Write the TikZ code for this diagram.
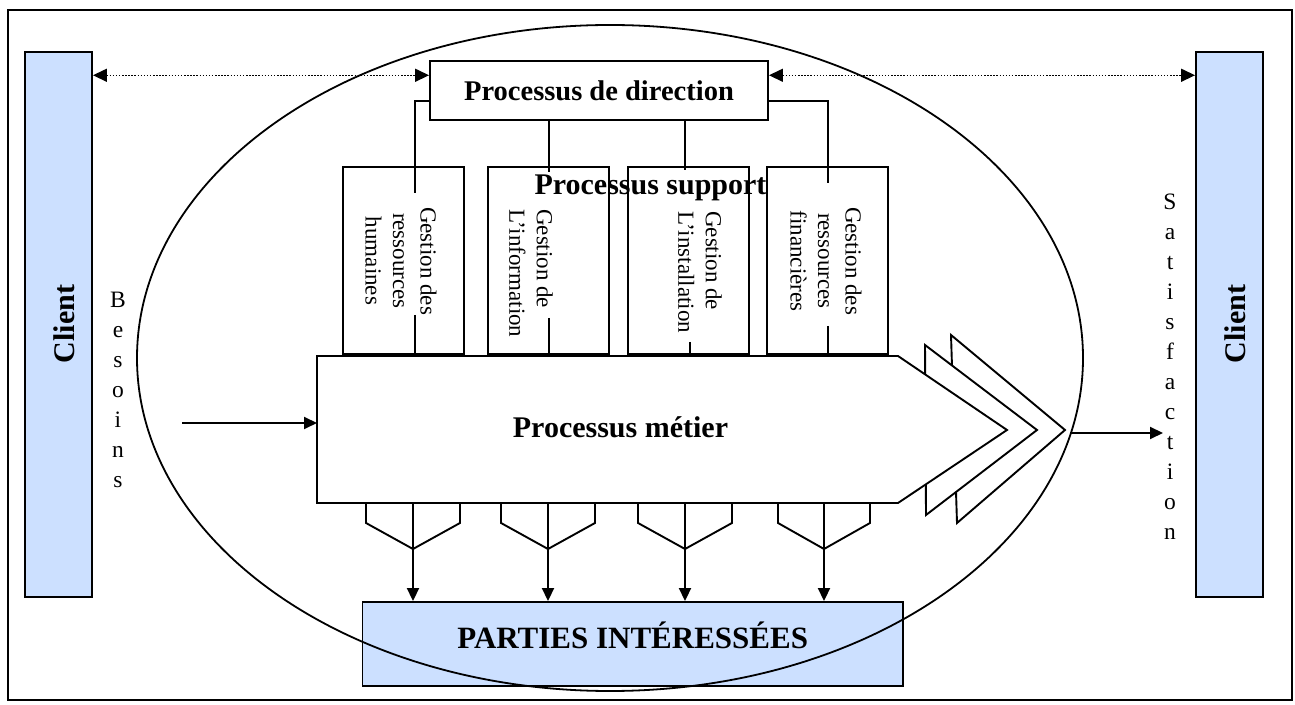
\documentclass[tikz,border=0pt]{standalone}
\usepackage{fontspec}
\setmainfont{Liberation Serif}
\usetikzlibrary{arrows.meta,calc}
\definecolor{clientblue}{RGB}{204,224,255}

\begin{document}
\begin{tikzpicture}[x=1pt,y=1pt,
  line/.style={line width=1.9pt},
  box/.style={draw, line width=1.9pt, inner sep=0pt},
  bluebar/.style={box, fill=clientblue},
  tip/.style={-{Triangle[length=13pt,width=12pt]}},
  dots/.style={line width=1.5pt, dash pattern=on 1.5pt off 1.6pt,
    {Triangle[length=14pt,width=13pt]}-{Triangle[length=14pt,width=13pt]}},
  title/.style={font=\fontsize{30}{36}\selectfont\bfseries, inner sep=0pt},
  vlabel/.style={font=\fontsize{23}{27.5}\selectfont, rotate=-90, inner sep=0pt},
  letters/.style={font=\fontsize{23.5}{30}\selectfont, align=center, anchor=north, inner sep=0pt}
]
\useasboundingbox (0,0) rectangle (1295,704);

% outer frame
\draw[line] (8,4) rectangle (1292,694);

% clients on both sides
\node[bluebar, minimum width=67pt, minimum height=545pt] (clientL) at (58.5,379.5) {};
\node[bluebar, minimum width=67pt, minimum height=545pt] (clientR) at (1229.5,379.5) {};
\node[title, rotate=90, anchor=base] (clientLtxt) at (74,380) {Client};
\node[title, rotate=90, anchor=base] (clientRtxt) at (1245,380) {Client};

% management process
\node[box, minimum width=338pt, minimum height=59pt,
      font=\fontsize{28.5}{34}\selectfont\bfseries] (dir) at (599,613.5) {Processus de direction};

\coordinate (dL) at ($(dir.north west)!0.25!(dir.south west)$);
\coordinate (dR) at ($(dir.north east)!0.25!(dir.south east)$);
\draw[dots] (clientL.east |- dL) -- (dL);
\draw[dots] (dR) -- (clientR.west |- dR);

% support processes
\node[box, minimum width=121pt, minimum height=187pt] (s1) at (403.5,443.5) {};
\node[box, minimum width=121pt, minimum height=187pt] (s2) at (548.5,443.5) {};
\node[box, minimum width=121pt, minimum height=187pt] (s3) at (688.5,443.5) {};
\node[box, minimum width=121pt, minimum height=187pt] (s4) at (827.5,443.5) {};

\node[vlabel, align=center] (t1) at (401,443) {Gestion des\\ressources\\humaines};
\node[vlabel, align=left, anchor=west] (t2) at (531,495) {Gestion de\\L’information};
\node[vlabel, align=left, anchor=west] (t3) at (700,493) {Gestion de\\L’installation};
\node[vlabel, align=center] (t4) at (826,443) {Gestion des\\ressources\\financières};

% links from management down through the support boxes
\draw[line] (dir.west |- 0,603) -| (415,511);
\draw[line] (dir.south -| 549,0) -- (549,532);
\draw[line] (dir.south -| 685,0) -- (685,534);
\draw[line] (dir.east |- 0,603) -| (828,521);
\draw[line] (415,389) -- (415,348);
\draw[line] (549,386) -- (549,348);
\draw[line] (690,362) -- (690,348);
\draw[line] (828,378) -- (828,348);

\node[title, anchor=base] (supp) at (650.5,509) {Processus support};

% core process arrow with its chevrons
\draw[line, fill=white] (951,369) -- (1065,274) -- (957,181) -- cycle;
\draw[line, fill=white] (925,359) -- (1037,274) -- (926,189) -- cycle;
\draw[line, fill=white] (317,348) -- (898,348) -- (1007,274) -- (898,201) -- (317,201) -- cycle;
\node[title, anchor=base] (metier) at (620.5,266) {Processus métier};
\coordinate (mIn) at (317,281);
\coordinate (mOut) at (1070,271);

% stakeholders
\node[bluebar, minimum width=540.5pt, minimum height=84pt,
      font=\fontsize{31}{36}\selectfont\bfseries, text height=8pt, text depth=0pt]
      (pi) at (632.75,60) {PARTIES INTÉRESSÉES};

% outputs toward the stakeholders
\foreach \c/\h in {413/47, 548/47, 685/47, 824/46} {
  \draw[line] (\c-\h,201) -- (\c-\h,181) -- (\c,155) -- (\c+\h,181) -- (\c+\h,201);
  \draw[line, tip] (\c,201) -- (pi.north -| \c,0);
}

% needs and satisfaction
\node[letters] (besoins) at (118,412) {B\\e\\s\\o\\i\\n\\s};
\node[letters] (satisf) at (1170,510.5) {S\\a\\t\\i\\s\\f\\a\\c\\t\\i\\o\\n};
\coordinate (bStart) at (182,281);
\coordinate (sEnd) at (1163,271);
\draw[line, tip] (bStart) -- (mIn);
\draw[line, tip] (mOut) -- (sEnd);

% enterprise boundary
\draw[line width=1.8pt] (610,346) ellipse [x radius=473pt, y radius=333pt];
\end{tikzpicture}
\end{document}
